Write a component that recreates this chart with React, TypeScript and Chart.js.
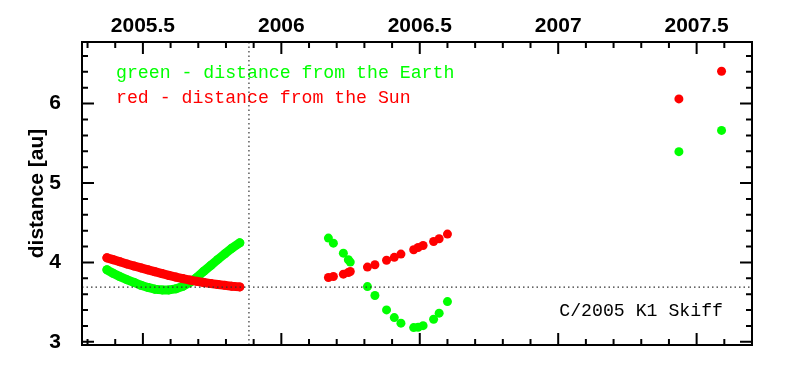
import React, { useEffect, useRef } from "react";
import { Chart, registerables } from "chart.js";

Chart.register(...registerables);

// ---- axis setup ----
const xTickValues = [2005.5, 2006, 2006.5, 2007, 2007.5];
const yTickValues = [3, 4, 5, 6];
const xMin = 2005.28;
const xMax = 2007.7;
const yMin = 2.96;
const yMax = 6.776;
const markerYear = 2005.883; // vertical dotted line
const markerDistance = 3.69; // horizontal dotted line

// ---- dense arc (2005) ----
const arcDates = [
  2005.37, 2005.392, 2005.417, 2005.442, 2005.468, 2005.493, 2005.518, 2005.543, 2005.569, 2005.594,
  2005.619, 2005.644, 2005.67, 2005.695, 2005.72, 2005.746, 2005.771, 2005.796, 2005.821, 2005.85,
];
const arcEarth = [
  3.907, 3.864, 3.821, 3.783, 3.748, 3.712, 3.685, 3.663, 3.654, 3.654,
  3.667, 3.699, 3.749, 3.812, 3.889, 3.965, 4.038, 4.108, 4.179, 4.247,
];
const arcSun = [
  4.058, 4.035, 4.008, 3.981, 3.955, 3.931, 3.907, 3.883, 3.859, 3.836,
  3.815, 3.796, 3.778, 3.762, 3.747, 3.733, 3.721, 3.711, 3.701, 3.692,
];

// ---- 2006 observations ----
const obsDates = [
  2006.17, 2006.188, 2006.224, 2006.242, 2006.249, 2006.311, 2006.338, 2006.38,
  2006.408, 2006.432, 2006.478, 2006.494, 2006.512, 2006.55, 2006.57, 2006.6,
];
const obsEarth = [
  4.306, 4.243, 4.117, 4.033, 4.004, 3.696, 3.583, 3.402,
  3.305, 3.235, 3.179, 3.184, 3.204, 3.285, 3.361, 3.507,
];
const obsSun = [
  3.81, 3.822, 3.852, 3.873, 3.885, 3.941, 3.97, 4.028,
  4.064, 4.105, 4.159, 4.188, 4.213, 4.264, 4.298, 4.357,
];

// ---- 2007 observations ----
const lateDates = [2007.436, 2007.59];
const lateEarth = [5.395, 5.663];
const lateSun = [6.059, 6.407];

const GREEN = "#00ff00";
const RED = "#ff0000";
const AXIS_FONT = { family: '"Liberation Sans"', size: 21, weight: "bold" as const };

const pts = (xs: number[], ys: number[]) => xs.map((x, i) => ({ x, y: ys[i] }));

const framePlugin = {
  id: "framePlugin",
  afterDatasetsDraw(chart: any) {
    const { ctx, chartArea: a, scales } = chart;
    const xs = scales.x;
    const ys = scales.y;
    ctx.save();

    // annotation texts
    ctx.font = '18.2px "Liberation Mono"';
    ctx.textBaseline = "alphabetic";
    ctx.textAlign = "left";
    ctx.fillStyle = GREEN;
    ctx.fillText("green - distance from the Earth", a.left + 34, 78);
    ctx.fillStyle = RED;
    ctx.fillText("red - distance from the Sun", a.left + 34, 103);
    ctx.fillStyle = "#000";
    ctx.textAlign = "right";
    ctx.fillText("C/2005 K1 Skiff", a.right - 29, 316);

    // dotted reference lines
    ctx.setLineDash([1.5, 3]);
    ctx.strokeStyle = "#333";
    ctx.lineWidth = 1.2;
    const vx = xs.getPixelForValue(markerYear);
    ctx.beginPath();
    ctx.moveTo(vx, a.top);
    ctx.lineTo(vx, a.bottom);
    ctx.stroke();
    const hy = ys.getPixelForValue(markerDistance);
    ctx.beginPath();
    ctx.moveTo(a.left, hy);
    ctx.lineTo(a.right, hy);
    ctx.stroke();
    ctx.setLineDash([]);

    // ticks
    ctx.strokeStyle = "#000";
    ctx.lineWidth = 2;
    ctx.beginPath();
    for (let i = Math.ceil(xMin * 10); i <= Math.floor(xMax * 10); i++) {
      const px = xs.getPixelForValue(i / 10);
      const len = i % 5 === 0 ? 12 : 6;
      ctx.moveTo(px, a.top);
      ctx.lineTo(px, a.top + len);
      ctx.moveTo(px, a.bottom);
      ctx.lineTo(px, a.bottom - len);
    }
    for (let j = Math.ceil(yMin * 5); j <= Math.floor(yMax * 5); j++) {
      const py = ys.getPixelForValue(j / 5);
      const len = j % 5 === 0 ? 12 : 6;
      ctx.moveTo(a.left, py);
      ctx.lineTo(a.left + len, py);
      ctx.moveTo(a.right, py);
      ctx.lineTo(a.right - len, py);
    }
    ctx.stroke();

    // frame
    ctx.strokeRect(a.left, a.top, a.right - a.left, a.bottom - a.top);
    ctx.restore();
  },
};

export default function App() {
  const canvasRef = useRef<HTMLCanvasElement | null>(null);

  useEffect(() => {
    if (!canvasRef.current) return;
    const chart = new Chart(canvasRef.current, {
      type: "scatter",
      data: {
        datasets: [
          {
            label: "Sun (2005)",
            data: pts(arcDates, arcSun),
            showLine: true,
            borderColor: RED,
            backgroundColor: RED,
            borderWidth: 9,
            borderCapStyle: "round",
            borderJoinStyle: "round",
            pointRadius: 4.5,
            pointBorderWidth: 0,
          },
          {
            label: "Sun",
            data: [...pts(obsDates, obsSun), ...pts(lateDates, lateSun)],
            borderColor: RED,
            backgroundColor: RED,
            pointRadius: 4.5,
            pointBorderWidth: 0,
          },
          {
            label: "Earth (2005)",
            data: pts(arcDates, arcEarth),
            showLine: true,
            borderColor: GREEN,
            backgroundColor: GREEN,
            borderWidth: 9,
            borderCapStyle: "round",
            borderJoinStyle: "round",
            pointRadius: 4.5,
            pointBorderWidth: 0,
          },
          {
            label: "Earth",
            data: [...pts(obsDates, obsEarth), ...pts(lateDates, lateEarth)],
            borderColor: GREEN,
            backgroundColor: GREEN,
            pointRadius: 4.5,
            pointBorderWidth: 0,
          },
        ],
      },
      options: {
        responsive: false,
        animation: false,
        layout: { padding: { left: 0, right: 38, top: 0, bottom: 34 } },
        plugins: {
          legend: { display: false },
          tooltip: { enabled: false },
        },
        scales: {
          x: {
            type: "linear",
            position: "top",
            min: xMin,
            max: xMax,
            grid: { display: false },
            border: { display: false },
            afterBuildTicks: (s: any) => {
              s.ticks = xTickValues.map((v) => ({ value: v }));
            },
            afterFit: (s: any) => {
              s.height = 42;
            },
            ticks: {
              padding: -5,
              color: "#000",
              font: AXIS_FONT,
              callback: (v: any) => String(v),
            },
          },
          y: {
            type: "linear",
            position: "left",
            min: yMin,
            max: yMax,
            grid: { display: false },
            border: { display: false },
            afterBuildTicks: (s: any) => {
              s.ticks = yTickValues.map((v) => ({ value: v }));
            },
            afterFit: (s: any) => {
              s.width = 82;
            },
            title: {
              display: true,
              text: "distance [au]",
              color: "#000",
              padding: { top: 25, bottom: 0 },
              font: AXIS_FONT,
            },
            ticks: {
              padding: 13,
              color: "#000",
              font: AXIS_FONT,
              callback: (v: any) => String(v),
            },
          },
        },
      },
      plugins: [framePlugin],
    });
    return () => chart.destroy();
  }, []);

  return (
    <div style={{ position: "absolute", left: 0, top: 0, width: 790, height: 379, background: "#fff" }}>
      <canvas ref={canvasRef} width={790} height={379} />
    </div>
  );
}
